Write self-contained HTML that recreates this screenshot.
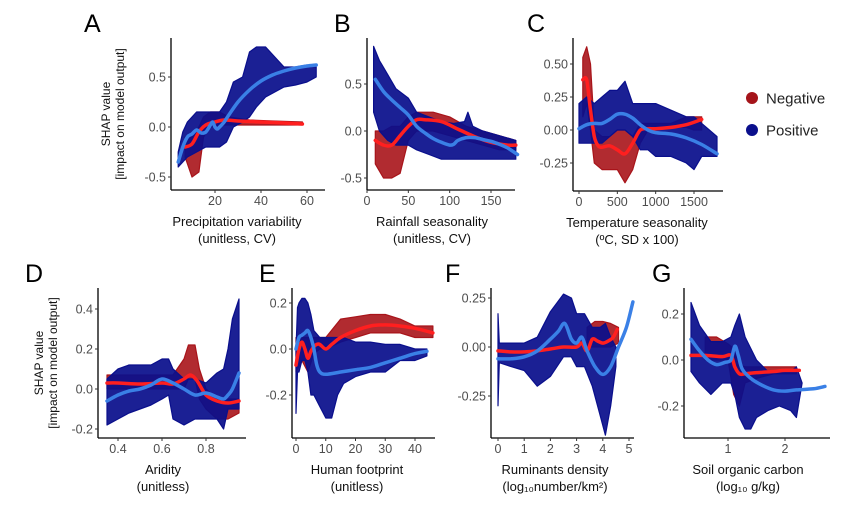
<!DOCTYPE html>
<html><head><meta charset="utf-8"><style>
html,body{margin:0;padding:0;background:#fff;}
svg{display:block;font-family:"Liberation Sans",sans-serif;}
</style></head><body>
<svg id="fig" width="865" height="510" viewBox="0 0 865 510"></svg>
<script>
// ---------- Panel A: precipitation variability ----------
const aBlueX=[4,6,8,12,16,20,22,25,28,32,35,38,42,46,50,55,60,64];
const aBlueLo=[-0.4,-0.35,-0.3,-0.25,-0.2,-0.2,-0.2,-0.15,0,0.05,0.1,0.2,0.3,0.35,0.4,0.42,0.45,0.5];
const aBlueHi=[-0.25,-0.05,0.05,0.15,0.15,0.15,0.15,0.25,0.45,0.5,0.75,0.8,0.8,0.7,0.6,0.6,0.62,0.6];
const aRedX=[7,10,13,15,18,22,26,35,45,58];
const aRedLo=[-0.3,-0.5,-0.45,-0.1,0,0.02,0.02,0.02,0.02,0.02];
const aRedHi=[-0.1,-0.1,0,0.1,0.15,0.15,0.1,0.07,0.06,0.05];
const aRedLineX=[7,10,13,16,20,24,30,40,50,58];
const aRedLineY=[-0.2,-0.17,-0.05,0.02,0.05,0.07,0.06,0.05,0.04,0.03];
const aBlueLineX=[4,6,8,10,12,14,16,18,19,20,21,22,24,26,30,35,40,45,50,55,60,64];
const aBlueLineY=[-0.35,-0.2,-0.1,-0.07,-0.03,-0.06,-0.05,0.02,0.05,0,-0.02,0,0.05,0.12,0.25,0.37,0.46,0.52,0.56,0.59,0.61,0.62];
const aXTicks=[20,40,60], aYTicks=[-0.5,0,0.5], aYLabels=["-0.5","0.0","0.5"];
// ---------- Panel B: rainfall seasonality ----------
const bBlueX=[8,15,25,35,50,60,75,90,105,118,122,128,140,160,180];
const bBlueLo=[0.2,0,-0.1,-0.15,-0.15,-0.2,-0.25,-0.3,-0.3,-0.3,-0.3,-0.3,-0.3,-0.3,-0.3];
const bBlueHi=[0.9,0.75,0.6,0.45,0.35,0.2,0.15,0.1,0.08,0.1,0.2,0.05,0,-0.05,-0.1];
const bRedX=[10,20,30,40,50,60,80,100,120,140,160,180];
const bRedLo=[-0.35,-0.5,-0.5,-0.45,-0.1,0,0,-0.05,-0.1,-0.15,-0.2,-0.2];
const bRedHi=[0,0,0.05,0.05,0.15,0.2,0.2,0.15,0.05,0,-0.05,-0.1];
const bRedLineX=[10,20,30,40,50,60,70,90,110,130,150,170,180];
const bRedLineY=[-0.1,-0.15,-0.15,-0.05,0.05,0.12,0.12,0.1,0.02,-0.06,-0.12,-0.15,-0.15];
const bBlueLineX=[10,20,30,40,50,60,70,80,90,100,105,110,120,130,140,150,160,170,182];
const bBlueLineY=[0.55,0.42,0.33,0.25,0.17,0.05,-0.02,-0.08,-0.12,-0.15,-0.14,-0.1,-0.07,-0.07,-0.09,-0.11,-0.14,-0.18,-0.25];
const bXTicks=[0,50,100,150], bYTicks=[-0.5,0,0.5], bYLabels=["-0.5","0.0","0.5"];
// ---------- Panel C: temperature seasonality ----------
const cBlueX=[0,100,200,300,400,500,600,700,800,900,1000,1200,1400,1500,1600,1800];
const cBlueLo=[-0.1,-0.1,-0.1,-0.1,-0.05,0,0,-0.05,-0.15,-0.15,-0.2,-0.2,-0.25,-0.3,-0.2,-0.2];
const cBlueHi=[0.2,0.25,0.2,0.25,0.3,0.3,0.37,0.2,0.2,0.2,0.2,0.15,0.1,0.1,0.05,-0.05];
const cRedX=[50,100,150,200,300,400,500,600,700,800,900,1000,1200,1400,1500,1600];
const cRedLo=[0.1,0.2,0,-0.25,-0.3,-0.3,-0.3,-0.4,-0.3,-0.1,0,0,0.02,0.02,0,0];
const cRedHi=[0.55,0.63,0.5,0,-0.05,-0.05,0,0,-0.05,0.05,0.05,0.05,0.05,0.1,0.1,0.1];
const cRedLineX=[50,100,150,200,250,300,400,500,600,700,800,900,1000,1200,1400,1600];
const cRedLineY=[0.38,0.38,0.15,-0.05,-0.12,-0.13,-0.12,-0.15,-0.18,-0.1,0,0.01,0.01,0.02,0.04,0.08];
const cBlueLineX=[0,100,200,300,400,500,600,700,800,900,1000,1200,1400,1600,1800];
const cBlueLineY=[0.01,0.04,0.05,0.05,0.08,0.12,0.12,0.09,0.04,0,-0.02,-0.03,-0.06,-0.11,-0.18];
const cXTicks=[0,500,1000,1500], cYTicks=[-0.25,0,0.25,0.5], cYLabels=["-0.25","0.00","0.25","0.50"];
// ---------- Panel D: aridity ----------
const dBlueX=[0.35,0.4,0.45,0.5,0.55,0.6,0.63,0.65,0.7,0.75,0.8,0.85,0.88,0.9,0.92,0.95];
const dBlueLo=[-0.18,-0.15,-0.12,-0.1,-0.08,-0.05,-0.03,-0.15,-0.18,-0.15,-0.15,-0.15,-0.2,-0.1,-0.1,-0.1];
const dBlueHi=[0.05,0.1,0.12,0.12,0.12,0.15,0.15,0.1,0.05,0.05,0.03,0.08,0.1,0.2,0.35,0.45];
const dRedX=[0.35,0.45,0.55,0.65,0.7,0.72,0.75,0.77,0.8,0.85,0.9,0.95];
const dRedLo=[0,0,0,0,0,0.05,0.05,-0.05,-0.1,-0.15,-0.15,-0.12];
const dRedHi=[0.07,0.07,0.07,0.07,0.15,0.22,0.22,0.1,0,-0.05,-0.05,-0.05];
const dRedLineX=[0.35,0.4,0.5,0.6,0.65,0.7,0.73,0.76,0.8,0.85,0.9,0.95];
const dRedLineY=[0.03,0.03,0.025,0.03,0.025,0.05,0.07,0.04,-0.03,-0.06,-0.07,-0.06];
const dBlueLineX=[0.35,0.4,0.45,0.5,0.55,0.6,0.65,0.7,0.75,0.8,0.85,0.88,0.9,0.92,0.95];
const dBlueLineY=[-0.06,-0.03,-0.01,0,0.02,0.05,0.03,0,-0.03,-0.02,-0.04,-0.05,-0.03,0,0.08];
const dXTicks=[0.4,0.6,0.8], dYTicks=[-0.2,0,0.2,0.4], dYLabels=["-0.2","0.0","0.2","0.4"];
// ---------- Panel E: human footprint ----------
const eBlueX=[0,0.5,1,2,3,4,5,6,8,10,12,14,16,20,25,30,35,40,44];
const eBlueLo=[-0.28,-0.1,-0.1,-0.05,-0.05,-0.1,-0.2,-0.2,-0.25,-0.3,-0.3,-0.2,-0.15,-0.12,-0.1,-0.1,-0.05,-0.05,-0.03];
const eBlueHi=[0.0,0.18,0.2,0.22,0.22,0.2,0.15,0.08,0.05,0.05,0.05,0.05,0.05,0.03,0.03,0.02,0.02,0,0];
const eRedX=[0,2,4,6,8,10,15,20,25,30,35,40,46];
const eRedLo=[-0.1,-0.05,-0.1,-0.02,0,0,0.03,0.05,0.07,0.07,0.07,0.05,0.05];
const eRedHi=[0.05,0.05,0.05,0.05,0.05,0.05,0.13,0.14,0.15,0.15,0.13,0.1,0.1];
const eRedLineX=[0,1,2,3,4,5,6,7,8,10,12,15,20,25,30,35,40,46];
const eRedLineY=[-0.07,0,0.03,0,-0.04,-0.01,0.01,0.02,0.02,0,0.02,0.05,0.08,0.1,0.105,0.1,0.09,0.07];
const eBlueLineX=[0,1,2,3,4,5,6,7,8,10,15,20,25,30,35,40,44];
const eBlueLineY=[0,0.05,0.06,0.07,0.08,0.05,0,-0.07,-0.1,-0.11,-0.1,-0.09,-0.08,-0.06,-0.04,-0.02,-0.01];
const eXTicks=[0,10,20,30,40], eYTicks=[-0.2,0,0.2], eYLabels=["-0.2","0.0","0.2"];
// ---------- Panel F: ruminants density ----------
const fBlueX=[0,0.05,0.5,1,1.5,2,2.5,2.8,3,3.3,3.6,3.9,4.1,4.3,4.5];
const fBlueLo=[-0.3,-0.08,-0.1,-0.12,-0.2,-0.15,-0.05,-0.05,-0.1,-0.1,-0.2,-0.35,-0.45,-0.3,-0.1];
const fBlueHi=[0.17,0.02,0.02,0.02,0.05,0.18,0.27,0.25,0.17,0.17,0.1,0.1,0.12,0.05,0];
const fRedX=[3.4,3.7,4,4.3,4.6];
const fRedLo=[0,0,0,0,0.02];
const fRedHi=[0.1,0.13,0.13,0.12,0.1];
const fRedLineX=[0,0.5,1,1.5,2,2.5,3,3.2,3.4,3.6,3.8,4,4.2,4.4,4.55];
const fRedLineY=[-0.02,-0.025,-0.025,-0.02,-0.01,0,0,0.02,-0.02,0.04,0.03,0.02,0.03,0.05,0.09];
const fBlueLineX=[0,0.5,1,1.5,2,2.3,2.55,2.8,3,3.2,3.4,3.7,4,4.3,4.6,4.9,5.15];
const fBlueLineY=[-0.06,-0.06,-0.05,-0.02,0.04,0.08,0.12,0.04,0.02,0.05,-0.02,-0.1,-0.14,-0.1,0,0.1,0.23];
const fXTicks=[0,1,2,3,4,5], fYTicks=[-0.25,0,0.25], fYLabels=["-0.25","0.00","0.25"];
// ---------- Panel G: soil organic carbon ----------
const gBlueX=[0.35,0.5,0.7,0.9,1.05,1.12,1.2,1.3,1.4,1.5,1.7,1.9,2.1,2.2,2.3];
const gBlueLo=[-0.05,-0.1,-0.15,-0.1,-0.1,-0.15,-0.25,-0.3,-0.3,-0.25,-0.22,-0.2,-0.22,-0.25,-0.1];
const gBlueHi=[0.25,0.15,0.08,0.08,0.1,0.15,0.2,0.1,0.05,0,-0.05,-0.05,-0.05,-0.03,-0.1];
const gRedX=[0.6,0.8,1.0,1.1,1.2,1.3,1.5,1.8,2.2];
const gRedLo=[0,0,0,-0.15,-0.2,-0.1,-0.08,-0.06,-0.06];
const gRedHi=[0.1,0.1,0.07,0.05,-0.02,-0.03,-0.03,-0.03,-0.03];
const gRedLineX=[0.35,0.6,0.9,1.05,1.12,1.2,1.3,1.5,1.8,2.0,2.25];
const gRedLineY=[0.02,0.02,0.015,0.02,-0.03,-0.06,-0.06,-0.055,-0.05,-0.045,-0.045];
const gBlueLineX=[0.35,0.5,0.65,0.8,0.95,1.05,1.12,1.18,1.25,1.4,1.6,1.8,2.0,2.2,2.5,2.7];
const gBlueLineY=[0.09,0.04,0,-0.02,-0.01,0,0.06,0.02,-0.04,-0.08,-0.11,-0.13,-0.135,-0.13,-0.125,-0.115];
const gXTicks=[1,2], gYTicks=[-0.2,0,0.2], gYLabels=["-0.2","0.0","0.2"];

const NS="http://www.w3.org/2000/svg";
const svg=document.getElementById('fig');
function mk(tag,attrs,parent){const e=document.createElementNS(NS,tag);for(const k in attrs)e.setAttribute(k,attrs[k]);(parent||svg).appendChild(e);return e;}

const panels=[
 {id:'a',letter:'A',lx:84,ly:32,ax:171,top:38,bot:190,right:325,x0:20,px0:215,x1:60,px1:307,y0:0,py0:127,y1:0.5,py1:77,
  bx:aBlueX,blo:aBlueLo,bhi:aBlueHi,rx:aRedX,rlo:aRedLo,rhi:aRedHi,rlx:aRedLineX,rly:aRedLineY,blx:aBlueLineX,bly:aBlueLineY,
  xt:aXTicks,yt:aYTicks,yl:aYLabels,t1:'Precipitation variability',t2:'(unitless, CV)',tc:237},
 {id:'b',letter:'B',lx:334,ly:32,ax:367,top:38,bot:190,right:515,x0:0,px0:367,x1:150,px1:491,y0:0,py0:131,y1:0.5,py1:84,
  bx:bBlueX,blo:bBlueLo,bhi:bBlueHi,rx:bRedX,rlo:bRedLo,rhi:bRedHi,rlx:bRedLineX,rly:bRedLineY,blx:bBlueLineX,bly:bBlueLineY,
  xt:bXTicks,yt:bYTicks,yl:bYLabels,t1:'Rainfall seasonality',t2:'(unitless, CV)',tc:432},
 {id:'c',letter:'C',lx:527,ly:32,ax:573,top:38,bot:191,right:723,x0:0,px0:579,x1:1500,px1:694,y0:0,py0:130,y1:0.5,py1:64,
  bx:cBlueX,blo:cBlueLo,bhi:cBlueHi,rx:cRedX,rlo:cRedLo,rhi:cRedHi,rlx:cRedLineX,rly:cRedLineY,blx:cBlueLineX,bly:cBlueLineY,
  xt:cXTicks,yt:cYTicks,yl:cYLabels,t1:'Temperature seasonality',t2:'(ºC, SD x 100)',tc:637},
 {id:'d',letter:'D',lx:25,ly:282,ax:98,top:288,bot:438,right:246,x0:0.4,px0:118,x1:0.8,px1:206,y0:0,py0:389,y1:0.4,py1:309,
  bx:dBlueX,blo:dBlueLo,bhi:dBlueHi,rx:dRedX,rlo:dRedLo,rhi:dRedHi,rlx:dRedLineX,rly:dRedLineY,blx:dBlueLineX,bly:dBlueLineY,
  xt:dXTicks,yt:dYTicks,yl:dYLabels,t1:'Aridity',t2:'(unitless)',tc:163},
 {id:'e',letter:'E',lx:259,ly:282,ax:292,top:288,bot:438,right:435,x0:0,px0:296,x1:40,px1:415,y0:0,py0:349,y1:0.2,py1:303,
  bx:eBlueX,blo:eBlueLo,bhi:eBlueHi,rx:eRedX,rlo:eRedLo,rhi:eRedHi,rlx:eRedLineX,rly:eRedLineY,blx:eBlueLineX,bly:eBlueLineY,
  xt:eXTicks,yt:eYTicks,yl:eYLabels,t1:'Human footprint',t2:'(unitless)',tc:357},
 {id:'f',letter:'F',lx:445,ly:282,ax:491,top:288,bot:438,right:634,x0:0,px0:498,x1:5,px1:629,y0:0,py0:347,y1:0.25,py1:298,
  bx:fBlueX,blo:fBlueLo,bhi:fBlueHi,rx:fRedX,rlo:fRedLo,rhi:fRedHi,rlx:fRedLineX,rly:fRedLineY,blx:fBlueLineX,bly:fBlueLineY,
  xt:fXTicks,yt:fYTicks,yl:fYLabels,t1:'Ruminants density',t2:'(log₁₀number/km²)',tc:555},
 {id:'g',letter:'G',lx:652,ly:282,ax:684,top:288,bot:438,right:830,x0:1,px0:728,x1:2,px1:785,y0:0,py0:360,y1:0.2,py1:314,
  bx:gBlueX,blo:gBlueLo,bhi:gBlueHi,rx:gRedX,rlo:gRedLo,rhi:gRedHi,rlx:gRedLineX,rly:gRedLineY,blx:gBlueLineX,bly:gBlueLineY,
  xt:gXTicks,yt:gYTicks,yl:gYLabels,t1:'Soil organic carbon',t2:'(log₁₀ g/kg)',tc:748}
];

function smoothPath(pts){
  let d='M'+pts[0][0].toFixed(1)+','+pts[0][1].toFixed(1);
  for(let i=0;i<pts.length-1;i++){
    const p0=pts[Math.max(0,i-1)],p1=pts[i],p2=pts[i+1],p3=pts[Math.min(pts.length-1,i+2)];
    const c1=[p1[0]+(p2[0]-p0[0])/6,p1[1]+(p2[1]-p0[1])/6];
    const c2=[p2[0]-(p3[0]-p1[0])/6,p2[1]-(p3[1]-p1[1])/6];
    d+=' C'+c1[0].toFixed(1)+','+c1[1].toFixed(1)+' '+c2[0].toFixed(1)+','+c2[1].toFixed(1)+' '+p2[0].toFixed(1)+','+p2[1].toFixed(1);
  }
  return d;
}
function bandPoints(xs,lo,hi,X,Y){
  const up=xs.map((x,i)=>X(x).toFixed(1)+','+Y(hi[i]).toFixed(1));
  const dn=xs.map((x,i)=>X(x).toFixed(1)+','+Y(lo[i]).toFixed(1)).reverse();
  return up.concat(dn).join(' ');
}

panels.forEach(p=>{
  const X=v=>p.px0+(v-p.x0)*(p.px1-p.px0)/(p.x1-p.x0);
  const Y=v=>p.py0+(v-p.y0)*(p.py1-p.py0)/(p.y1-p.y0);
  const g=mk('g',{});
  
  
  const L=mk('text',{x:p.lx,y:p.ly,'font-size':25,fill:'#000'},g);L.textContent=p.letter;
  
  
  const rb=mk('polygon',{points:bandPoints(p.rx,p.rlo,p.rhi,X,Y),fill:'#a8141a','fill-opacity':0.9,stroke:'#a8141a','stroke-width':1.2,'stroke-linejoin':'round'},g);
  
  
  const bb=mk('polygon',{points:bandPoints(p.bx,p.blo,p.bhi,X,Y),fill:'#0a0f8c','fill-opacity':0.93,stroke:'#0a0f8c','stroke-width':1.2,'stroke-linejoin':'round'},g);
  
  
  const rl=mk('path',{d:smoothPath(p.rlx.map((x,i)=>[X(x),Y(p.rly[i])])),fill:'none',stroke:'#ff1f1f','stroke-width':3.5,'stroke-linecap':'round'},g);
  
  
  const bl=mk('path',{d:smoothPath(p.blx.map((x,i)=>[X(x),Y(p.bly[i])])),fill:'none',stroke:'#3a80e6','stroke-width':3.5,'stroke-linecap':'round'},g);
  
  
  const ya=mk('line',{x1:p.ax,y1:p.top,x2:p.ax,y2:p.bot,stroke:'#000','stroke-width':1.3},g);
  
  
  const xa=mk('line',{x1:p.ax,y1:p.bot,x2:p.right,y2:p.bot,stroke:'#000','stroke-width':1.3},g);
  
  
  p.yt.forEach((v,i)=>{
    mk('line',{x1:p.ax-3,y1:Y(v),x2:p.ax,y2:Y(v),stroke:'#333','stroke-width':1},g);
    const t=mk('text',{x:p.ax-5,y:Y(v)+4.5,'font-size':12.5,fill:'#4d4d4d','text-anchor':'end'},g);
    t.textContent=p.yl[i];
    
    
  });
  p.xt.forEach(v=>{
    mk('line',{x1:X(v),y1:p.bot,x2:X(v),y2:p.bot+3,stroke:'#333','stroke-width':1},g);
    const t=mk('text',{x:X(v),y:p.bot+15,'font-size':12.5,fill:'#4d4d4d','text-anchor':'middle'},g);
    t.textContent=String(v);
    
    
  });
  const t1=mk('text',{x:p.tc,y:p.bot+36,'font-size':13,fill:'#111','text-anchor':'middle'},g);
  t1.textContent=p.t1;
  
  
  const t2=mk('text',{x:p.tc,y:p.bot+53,'font-size':13,fill:'#111','text-anchor':'middle'},g);
  t2.textContent=p.t2;
  
  
});

[[110,114],[43,363]].forEach((c,i)=>{
  const g=mk('g',{transform:'translate('+c[0]+','+c[1]+') rotate(-90)'});
  
  
  const a=mk('text',{x:0,y:0,'font-size':12,fill:'#111','text-anchor':'middle'},g);a.textContent='SHAP value';
  const b=mk('text',{x:0,y:14,'font-size':12,fill:'#111','text-anchor':'middle'},g);b.textContent='[impact on model output]';
});

const lg=mk('g',{});


[['Negative','#a5141a',98],['Positive','#0a0f8c',130]].forEach(e=>{
  const it=mk('g',{},lg);
  
  
  mk('circle',{cx:752,cy:e[2],r:6,fill:e[1]},it);
  const t=mk('text',{x:766,y:e[2]+5.5,'font-size':15,fill:'#222'},it);t.textContent=e[0];
});
</script>
</body></html>
